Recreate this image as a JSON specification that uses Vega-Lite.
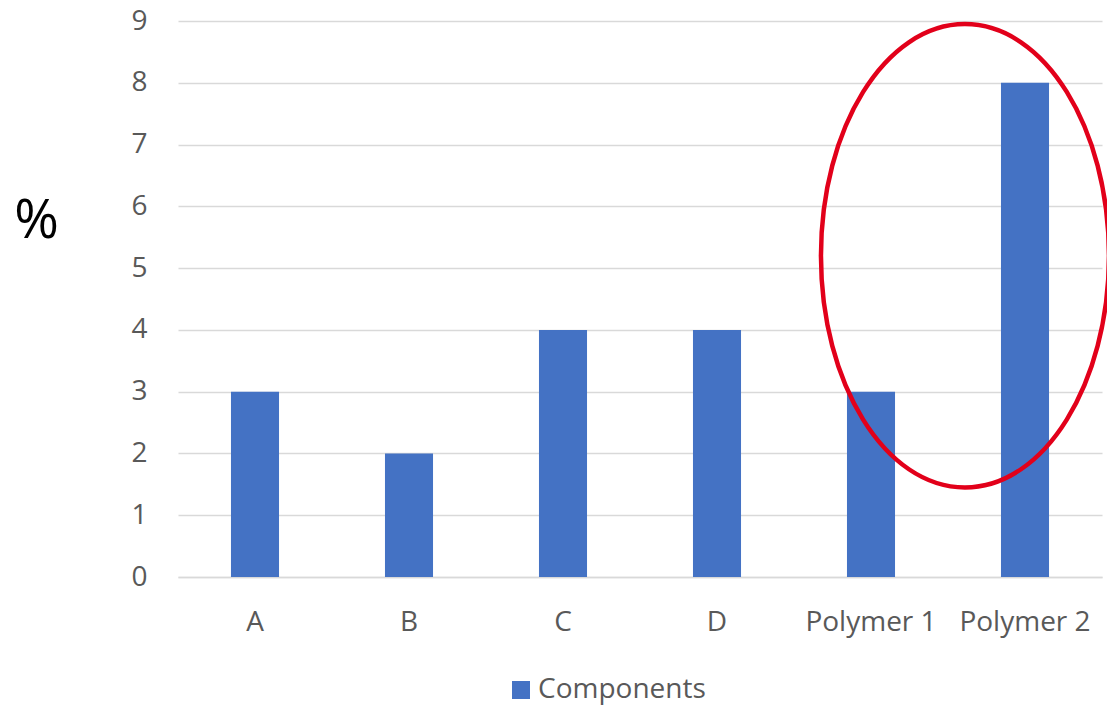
{
  "$schema": "https://vega.github.io/schema/vega-lite/v6.json",
  "autosize": "none",
  "width": 924,
  "height": 556,
  "padding": {"left": 178, "top": 21, "right": 5, "bottom": 128},
  "background": "white",
  "config": {
    "view": {"stroke": null},
    "font": "Open Sans"
  },
  "datasets": {
    "bars": [
      {"item": "A", "pct": 3, "series": "Components"},
      {"item": "B", "pct": 2, "series": "Components"},
      {"item": "C", "pct": 4, "series": "Components"},
      {"item": "D", "pct": 4, "series": "Components"},
      {"item": "Polymer 1", "pct": 3, "series": "Components"},
      {"item": "Polymer 2", "pct": 8, "series": "Components"}
    ],
    "highlight": [
      {"item": "Polymer 2", "pct": 5.2}
    ]
  },
  "layer": [
    {
      "data": {"name": "bars"},
      "mark": {"type": "bar"},
      "encoding": {
        "x": {
          "field": "item",
          "type": "nominal",
          "sort": null,
          "scale": {"paddingInner": 0.688, "paddingOuter": 0.344},
          "axis": {
            "title": null,
            "labelAngle": 0,
            "labelFontSize": 28,
            "labelColor": "#595959",
            "labelPadding": 31,
            "ticks": false,
            "domain": true,
            "domainColor": "#d9d9d9",
            "domainWidth": 1.5,
            "grid": false
          }
        },
        "y": {
          "field": "pct",
          "type": "quantitative",
          "scale": {"domain": [0, 9], "nice": false},
          "axis": {
            "title": "%",
            "titleAngle": 0,
            "titleFontSize": 54,
            "titleFontWeight": "normal",
            "titleColor": "black",
            "titleX": -142,
            "titleY": 216,
            "titleAlign": "center",
            "titleBaseline": "alphabetic",
            "values": [0, 1, 2, 3, 4, 5, 6, 7, 8, 9],
            "format": "d",
            "labelFontSize": 28,
            "labelColor": "#595959",
            "labelPadding": 31,
            "ticks": false,
            "domain": false,
            "grid": true,
            "gridColor": "#d9d9d9",
            "gridWidth": 1.3
          }
        },
        "color": {
          "field": "series",
          "type": "nominal",
          "scale": {"range": ["#4472C4"]},
          "legend": {
            "title": null,
            "orient": "none",
            "legendX": 329,
            "legendY": 655,
            "padding": 0,
            "symbolType": "square",
            "symbolSize": 324,
            "symbolStrokeWidth": 0,
            "symbolOpacity": 1,
            "labelFontSize": 28,
            "labelLimit": 400,
            "labelColor": "#595959",
            "labelOffset": 3
          }
        }
      }
    },
    {
      "data": {"name": "highlight"},
      "mark": {
        "type": "point",
        "shape": "M 0.583 0 C 0.583 0.8886 0.1353 1.609 -0.417 1.609 C -0.9693 1.609 -1.417 0.8886 -1.417 0 C -1.417 -0.8886 -0.9693 -1.609 -0.417 -1.609 C 0.1353 -1.609 0.583 -0.8886 0.583 0 Z",
        "size": 82944,
        "filled": false,
        "stroke": "#E2001A",
        "strokeWidth": 4.5,
        "opacity": 1
      },
      "encoding": {
        "x": {"field": "item", "type": "nominal", "sort": null},
        "y": {"field": "pct", "type": "quantitative"}
      }
    }
  ]
}
